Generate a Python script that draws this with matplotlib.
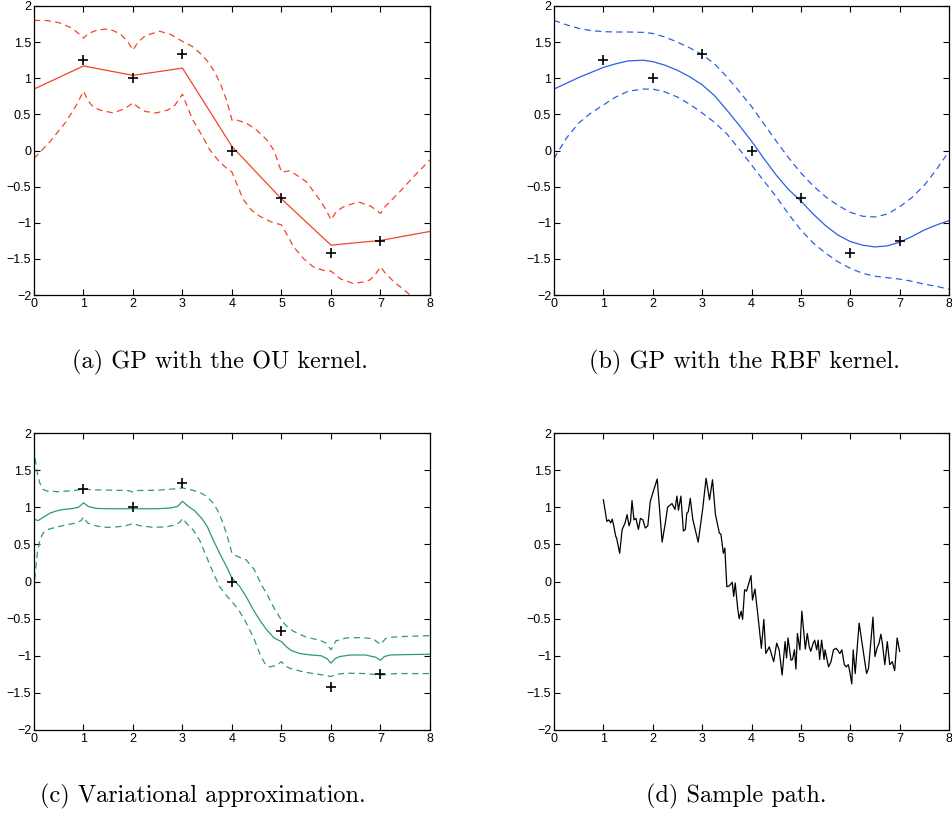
import matplotlib
matplotlib.use('Agg')
import matplotlib.pyplot as plt

# observations (same in every panel)
obs_x = [1, 2, 3, 4, 5, 6, 7]
obs_y = [1.25, 1.0, 1.33, 0.0, -0.66, -1.42, -1.25]

# (a) OU kernel
ou_mean_x = [0, 1, 2, 3, 4, 5, 6, 7, 8]
ou_mean_y = [0.85, 1.17, 1.04, 1.14, 0.055, -0.67, -1.31, -1.245, -1.12]
ou_up_x = [0, 0.25, 0.5, 0.75, 0.9, 1.0, 1.1, 1.25, 1.43, 1.6, 1.75, 1.9, 2.0,
           2.1, 2.25, 2.54, 2.75, 2.9, 3.0, 3.2, 3.35, 3.5, 3.62, 3.75, 3.89,
           4.0, 4.1, 4.29, 4.5, 4.7, 4.85, 4.95, 5.0, 5.17, 5.5, 5.77, 5.9,
           6.0, 6.1, 6.25, 6.55, 6.8, 7.0, 7.1, 7.39, 7.7, 8.0]
ou_up_y = [1.80, 1.80, 1.77, 1.70, 1.62, 1.555, 1.62, 1.66, 1.68, 1.66, 1.61,
           1.50, 1.39, 1.50, 1.59, 1.65, 1.61, 1.55, 1.51, 1.44, 1.35, 1.24,
           1.12, 0.95, 0.70, 0.42, 0.42, 0.38, 0.28, 0.15, 0.0, -0.20, -0.30,
           -0.28, -0.43, -0.68, -0.82, -0.96, -0.85, -0.78, -0.71, -0.77,
           -0.87, -0.77, -0.57, -0.34, -0.13]
ou_lo_x = [0, 0.32, 0.65, 0.85, 1.0, 1.1, 1.2, 1.33, 1.6, 1.8, 1.92, 2.0, 2.1,
           2.25, 2.47, 2.7, 2.85, 2.95, 3.0, 3.1, 3.21, 3.4, 3.55, 3.75, 3.9,
           4.0, 4.1, 4.23, 4.4, 4.56, 4.8, 5.0, 5.1, 5.24, 5.45, 5.64, 5.85,
           6.0, 6.2, 6.45, 6.65, 6.79, 6.9, 7.0, 7.1, 7.26, 7.6, 8.0]
ou_lo_y = [-0.11, 0.12, 0.40, 0.62, 0.82, 0.68, 0.60, 0.56, 0.52, 0.57, 0.62,
           0.66, 0.60, 0.54, 0.52, 0.56, 0.63, 0.73, 0.78, 0.60, 0.42, 0.20,
           0.01, -0.16, -0.25, -0.30, -0.47, -0.68, -0.83, -0.91, -0.99, -1.03,
           -1.15, -1.33, -1.50, -1.61, -1.66, -1.67, -1.78, -1.84, -1.82,
           -1.79, -1.71, -1.61, -1.70, -1.81, -2.0, -2.3]

# (b) RBF kernel
rbf_x = [0, 0.25, 0.5, 0.75, 1.0, 1.25, 1.5, 1.8, 2.0, 2.25, 2.5, 2.75, 3.0,
         3.25, 3.5, 3.75, 4.0, 4.25, 4.5, 4.75, 5.0, 5.25, 5.5, 5.75, 6.0,
         6.25, 6.5, 6.75, 7.0, 7.25, 7.5, 7.75, 8.0]
rbf_mean = [0.85, 0.93, 1.01, 1.08, 1.15, 1.20, 1.24, 1.25, 1.23, 1.18, 1.11,
            1.02, 0.91, 0.76, 0.56, 0.35, 0.13, -0.11, -0.34, -0.54, -0.70,
            -0.88, -1.04, -1.17, -1.26, -1.31, -1.335, -1.32, -1.27, -1.19,
            -1.10, -1.03, -0.97]
rbf_up = [1.80, 1.74, 1.69, 1.66, 1.645, 1.64, 1.64, 1.635, 1.62, 1.57, 1.50,
          1.42, 1.33, 1.20, 1.02, 0.82, 0.61, 0.37, 0.13, -0.10, -0.31, -0.49,
          -0.64, -0.76, -0.855, -0.91, -0.92, -0.88, -0.78, -0.65, -0.48,
          -0.26, -0.01]
rbf_lo = [-0.11, 0.17, 0.38, 0.52, 0.63, 0.74, 0.82, 0.85, 0.85, 0.81, 0.74,
          0.64, 0.52, 0.39, 0.23, 0.02, -0.20, -0.42, -0.64, -0.88, -1.10,
          -1.28, -1.42, -1.54, -1.63, -1.70, -1.74, -1.76, -1.78, -1.81,
          -1.85, -1.88, -1.92]

# (c) variational approximation
va_mean_x = [0, 0.08, 0.2, 0.32, 0.45, 0.59, 0.75, 0.9, 1.0, 1.1, 1.25, 1.5,
             2.0, 2.5, 2.75, 2.9, 3.0, 3.1, 3.25, 3.4, 3.5, 3.62, 3.75, 3.89,
             4.0, 4.16, 4.3, 4.43, 4.56, 4.7, 4.85, 5.0, 5.1, 5.2, 5.37, 5.6,
             5.8, 5.92, 6.0, 6.08, 6.18, 6.4, 6.7, 6.9, 7.0, 7.08, 7.2, 7.5,
             8.0]
va_mean_y = [0.84, 0.82, 0.87, 0.92, 0.95, 0.97, 0.98, 1.0, 1.06, 1.01, 0.985,
             0.98, 0.98, 0.98, 0.99, 1.01, 1.08, 1.02, 0.95, 0.84, 0.74, 0.56,
             0.38, 0.20, 0.045, -0.07, -0.22, -0.38, -0.52, -0.65, -0.76,
             -0.81, -0.88, -0.93, -0.97, -0.99, -1.0, -1.04, -1.10, -1.04,
             -1.01, -0.99, -0.99, -1.02, -1.06, -1.01, -0.99, -0.985, -0.98]
va_up_x = [0, 0.03, 0.07, 0.12, 0.18, 0.28, 0.5, 0.8, 1.0, 1.2, 1.6, 1.9, 2.0,
           2.1, 2.5, 2.8, 3.0, 3.2, 3.35, 3.48, 3.6, 3.7, 3.8, 3.9, 4.0, 4.1,
           4.29, 4.45, 4.6, 4.7, 4.85, 5.0, 5.1, 5.24, 5.5, 5.77, 5.9, 6.0,
           6.1, 6.31, 6.6, 6.85, 7.0, 7.1, 7.22, 7.5, 8.0]
va_up_y = [1.80, 1.62, 1.45, 1.32, 1.24, 1.215, 1.21, 1.225, 1.245, 1.235,
           1.23, 1.225, 1.205, 1.225, 1.23, 1.245, 1.26, 1.23, 1.20, 1.15,
           1.07, 0.97, 0.82, 0.62, 0.38, 0.34, 0.29, 0.16, -0.05, -0.16,
           -0.36, -0.52, -0.60, -0.67, -0.75, -0.79, -0.83, -0.92, -0.80,
           -0.76, -0.755, -0.77, -0.85, -0.77, -0.75, -0.74, -0.73]
va_lo_x = [0, 0.03, 0.07, 0.12, 0.18, 0.28, 0.38, 0.6, 0.86, 0.95, 1.0, 1.08,
           1.19, 1.4, 1.6, 1.85, 2.0, 2.15, 2.4, 2.65, 2.85, 2.95, 3.0, 3.1,
           3.21, 3.35, 3.48, 3.62, 3.75, 3.9, 4.0, 4.15, 4.29, 4.45, 4.56,
           4.66, 4.76, 4.9, 5.0, 5.08, 5.17, 5.4, 5.64, 5.85, 6.0, 6.1, 6.3,
           6.7, 7.0, 7.3, 8.0]
va_lo_y = [-0.11, 0.15, 0.40, 0.56, 0.65, 0.70, 0.72, 0.755, 0.79, 0.82, 0.87,
           0.79, 0.76, 0.73, 0.73, 0.75, 0.78, 0.75, 0.73, 0.735, 0.76, 0.80,
           0.85, 0.77, 0.70, 0.55, 0.34, 0.12, -0.07, -0.20, -0.27, -0.40,
           -0.56, -0.78, -0.97, -1.10, -1.15, -1.13, -1.08, -1.14, -1.17,
           -1.21, -1.24, -1.26, -1.28, -1.25, -1.235, -1.24, -1.26, -1.24,
           -1.24]

# (d) sample path
path_x = [1.0, 1.07, 1.11, 1.15, 1.18, 1.21, 1.25, 1.27, 1.33, 1.38, 1.44,
          1.48, 1.52, 1.55, 1.58, 1.62, 1.66, 1.71, 1.75, 1.80, 1.85, 1.90,
          1.95, 2.0, 2.09, 2.19, 2.26, 2.30, 2.39, 2.45, 2.49, 2.52, 2.57,
          2.62, 2.66, 2.69, 2.72, 2.76, 2.81, 2.92, 3.01, 3.08, 3.15, 3.21,
          3.27, 3.35, 3.38, 3.43, 3.46, 3.50, 3.55, 3.61, 3.64, 3.67, 3.72,
          3.75, 3.79, 3.82, 3.86, 3.90, 3.99, 4.02, 4.07, 4.14, 4.20, 4.25,
          4.29, 4.36, 4.45, 4.51, 4.56, 4.62, 4.68, 4.71, 4.74, 4.80, 4.83,
          4.87, 4.90, 4.93, 4.98, 5.02, 5.09, 5.13, 5.17, 5.20, 5.25, 5.28,
          5.32, 5.35, 5.38, 5.42, 5.47, 5.49, 5.56, 5.61, 5.66, 5.71, 5.74,
          5.79, 5.83, 5.88, 5.92, 5.96, 5.99, 6.03, 6.06, 6.10, 6.18, 6.33,
          6.37, 6.46, 6.50, 6.55, 6.58, 6.62, 6.65, 6.70, 6.75, 6.80, 6.85,
          6.90, 6.95, 7.0]
path_y = [1.10, 0.81, 0.83, 0.79, 0.84, 0.75, 0.61, 0.58, 0.38, 0.70, 0.79,
          0.90, 0.75, 0.81, 1.09, 0.83, 0.85, 0.70, 0.85, 0.83, 0.72, 0.75,
          1.08, 1.19, 1.38, 0.53, 0.81, 1.0, 1.05, 0.97, 1.15, 0.96, 1.15,
          0.68, 0.70, 0.92, 0.94, 1.12, 0.84, 0.53, 0.97, 1.39, 1.10, 1.37,
          0.90, 0.65, 0.64, 0.38, 0.45, -0.07, -0.06, -0.01, -0.20, -0.02,
          -0.36, -0.50, -0.40, -0.51, -0.11, -0.13, 0.08, -0.25, -0.10, -0.52,
          -0.90, -0.51, -0.97, -0.88, -1.08, -0.83, -0.92, -1.26, -0.81, -1.03,
          -0.76, -1.06, -1.05, -0.92, -1.18, -0.70, -0.92, -0.40, -0.91, -0.70,
          -0.88, -0.94, -0.83, -0.79, -0.92, -0.79, -1.05, -0.79, -1.05, -0.92,
          -1.15, -1.08, -0.92, -0.90, -0.92, -0.97, -0.92, -1.12, -1.15, -1.12,
          -1.21, -1.38, -0.92, -1.24, -0.56, -1.24, -1.17, -0.48, -1.01, -0.88,
          -0.84, -0.71, -0.83, -1.12, -0.81, -1.12, -1.08, -1.20, -0.76, -0.94]

captions = ['(a) GP with the OU kernel.', '(b) GP with the RBF kernel.',
            '(c) Variational approximation.', '(d) Sample path.']

red = '#f4442b'
blue = '#2d5fe6'
green = '#2e9a6f'

plt.rcParams['font.family'] = ['Liberation Sans', 'DejaVu Sans']

fig = plt.figure(figsize=(9.53, 8.16), dpi=100)
W, H = 953, 816


def make_ax(left, top, right, bottom):
    ax = fig.add_axes([left / W, 1 - bottom / H, (right - left) / W, (bottom - top) / H])
    ax.set_xlim(0, 8)
    ax.set_ylim(-2, 2)
    ax.set_xticks(range(9))
    ax.set_yticks([-2, -1.5, -1, -0.5, 0, 0.5, 1, 1.5, 2])
    ax.set_yticklabels(['\u22122', '\u22121.5', '\u22121', '\u22120.5', '0',
                        '0.5', '1', '1.5', '2'])
    ax.tick_params(direction='in', top=True, right=True, length=4,
                   width=0.8, labelsize=9, pad=2)
    for s in ax.spines.values():
        s.set_linewidth(0.9)
    return ax


dash = (5, 3.5)
lw = 0.9

ax1 = make_ax(34, 6, 430, 295)
ax1.plot(ou_mean_x, ou_mean_y, color=red, lw=lw)
ax1.plot(ou_up_x, ou_up_y, color=red, lw=lw, dashes=dash)
ax1.plot(ou_lo_x, ou_lo_y, color=red, lw=lw, dashes=dash)
ax1.plot(obs_x, obs_y, 'k+', ms=7, mew=1.2)

ax2 = make_ax(554, 6, 949, 295)
ax2.plot(rbf_x, rbf_mean, color=blue, lw=lw)
ax2.plot(rbf_x, rbf_up, color=blue, lw=lw, dashes=dash)
ax2.plot(rbf_x, rbf_lo, color=blue, lw=lw, dashes=dash)
ax2.plot(obs_x, obs_y, 'k+', ms=7, mew=1.2)

ax3 = make_ax(34, 433, 430, 730)
ax3.plot(va_mean_x, va_mean_y, color=green, lw=lw)
ax3.plot(va_up_x, va_up_y, color=green, lw=lw, dashes=dash)
ax3.plot(va_lo_x, va_lo_y, color=green, lw=lw, dashes=dash)
ax3.plot(obs_x, obs_y, 'k+', ms=7, mew=1.2)

ax4 = make_ax(554, 433, 949, 730)
ax4.plot(path_x, path_y, color='k', lw=lw)

cap_pos = [(220, 362), (744, 362), (203, 796), (736, 796)]
for (cx, cy), txt in zip(cap_pos, captions):
    fig.text(cx / W, 1 - cy / H, txt, family='cmr10', fontsize=17.5,
             ha='center', va='center')

plt.savefig('out.png', dpi=100)
